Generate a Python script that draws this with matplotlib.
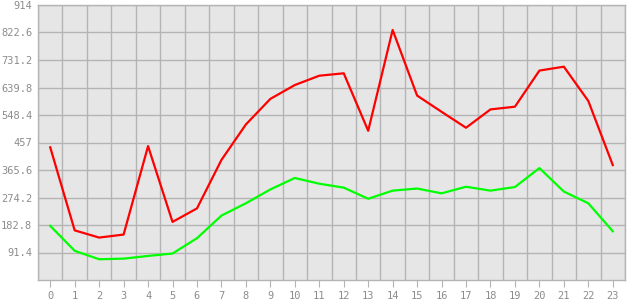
import matplotlib
matplotlib.use('Agg')
import matplotlib.pyplot as plt
import numpy as np

horas = list(range(24))
vermelho = [441, 165, 141, 151, 445, 193, 238, 399, 517, 602, 648, 679, 687, 496,
            831, 613, 559, 506, 567, 576, 696, 709, 595, 382]
verde = [180, 97, 69, 71, 80, 88, 139, 214, 255, 301, 339, 320, 307, 270,
         297, 304, 288, 310, 297, 309, 372, 294, 255, 162]
yticks = [91.4, 182.8, 274.2, 365.6, 457, 548.4, 639.8, 731.2, 822.6, 914]
ytick_labels = ['91.4', '182.8', '274.2', '365.6', '457', '548.4', '639.8', '731.2', '822.6', '914']

cinza = '#b4b4b4'
texto = '#8c8c8c'

fig = plt.figure(figsize=(6.3, 3), dpi=100)
ax = fig.add_axes([38/630, 20/300, 587/630, 275/300])
ax.set_facecolor('#e6e6e6')

ax.plot(horas, vermelho, color='#ff0000', lw=1.6, zorder=3)
ax.plot(horas, verde, color='#00ff00', lw=1.6, zorder=3)

ax.set_xlim(-0.5, 23.5)
ax.set_ylim(0, 914)

ax.set_xticks(horas)
ax.set_xticklabels([str(h) for h in horas])
ax.set_xticks(np.arange(-0.5, 24, 1), minor=True)
ax.set_yticks(yticks)
ax.set_yticklabels(ytick_labels)

ax.grid(True, which='minor', axis='x', color=cinza, lw=1)
ax.grid(True, which='major', axis='y', color=cinza, lw=1)
ax.set_axisbelow(True)

ax.tick_params(axis='x', which='major', length=5, color=cinza, labelcolor=texto,
               labelsize=7.5, pad=3)
ax.tick_params(axis='x', which='minor', length=0)
ax.tick_params(axis='y', length=0, labelcolor=texto, labelsize=7.5, pad=4)
for lbl in ax.get_xticklabels() + ax.get_yticklabels():
    lbl.set_family('DejaVu Sans Mono')

for s in ax.spines.values():
    s.set_color(cinza)
    s.set_linewidth(1)

fig.savefig('out.png', dpi=100)
